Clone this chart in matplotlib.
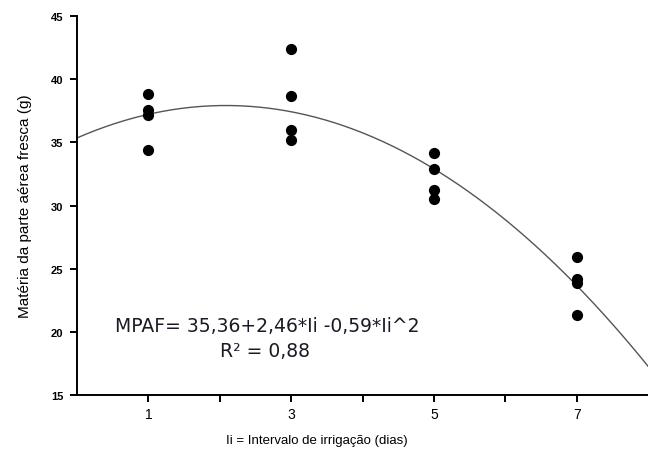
import numpy as np
import matplotlib
matplotlib.use("Agg")
import matplotlib.pyplot as plt

plt.rcParams['font.family'] = ['Liberation Sans', 'DejaVu Sans']

# Observed data
x_obs = [1, 1, 1, 1, 3, 3, 3, 3, 5, 5, 5, 5, 7, 7, 7, 7]
y_obs = [38.8, 37.6, 37.2, 34.4, 42.4, 38.7, 36.0, 35.2,
         34.2, 32.9, 31.2, 30.5, 25.9, 24.2, 23.9, 21.3]
# Fitted model coefficients
coef = [35.36, 2.46, -0.59]
eq_text = "MPAF= 35,36+2,46*Ii -0,59*Ii^2"
r2_text = "R² = 0,88"
x_ticks = [1, 2, 3, 4, 5, 6, 7]
x_ticklabels = ["1", "", "3", "", "5", "", "7"]
y_ticks = [15, 20, 25, 30, 35, 40, 45]

fig = plt.figure(figsize=(6.48, 4.52), dpi=100)
ax = fig.add_axes([0.119, 0.124, 0.881, 0.838])

xs = np.linspace(0, 8, 300)
ys = coef[0] + coef[1] * xs + coef[2] * xs ** 2
ax.plot(xs, ys, color='#555555', lw=1.0, zorder=2)
ax.scatter(x_obs, y_obs, s=65, color='black', zorder=3, linewidths=0)

ax.set_xlim(0, 8)
ax.set_ylim(15, 45)
ax.set_xticks(x_ticks)
ax.set_xticklabels(x_ticklabels, fontsize=10)
ax.set_yticks(y_ticks)
ax.set_yticklabels([str(v) for v in y_ticks], fontsize=8, fontweight='bold')
ax.spines['top'].set_visible(False)
ax.spines['right'].set_visible(False)
ax.spines['left'].set_linewidth(1.4)
ax.spines['bottom'].set_linewidth(1.4)
ax.tick_params(direction='out', length=5, width=1.4)
ax.tick_params(axis='x', pad=4)
ax.tick_params(axis='y', pad=5)

ax.set_xlabel("Ii = Intervalo de irrigação (dias)", fontsize=9.5)
ax.xaxis.set_label_coords(0.42, -0.103)
ax.set_ylabel("Matéria da parte aérea fresca (g)", fontsize=11)
ax.yaxis.set_label_coords(-0.079, 0.5)

ax.text(2.67, 20.54, eq_text, fontsize=13.5, family='DejaVu Sans',
        color='#1a1a26', ha='center', va='center')
ax.text(2.63, 18.56, r2_text, fontsize=13.5, family='DejaVu Sans',
        color='#1a1a26', ha='center', va='center')

fig.savefig("out.png", dpi=100)
